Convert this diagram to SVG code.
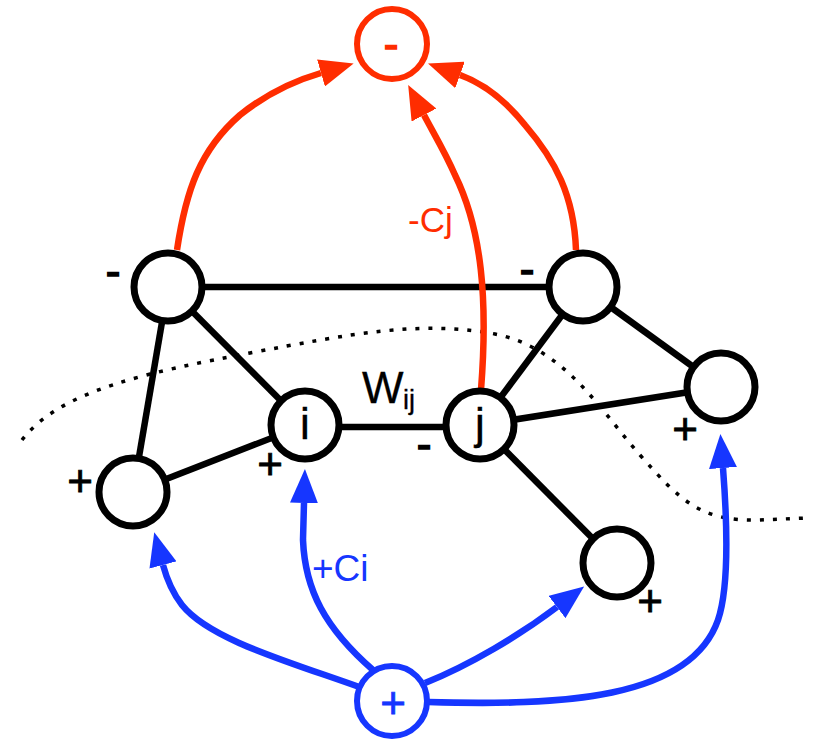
<svg xmlns="http://www.w3.org/2000/svg" width="817" height="740" viewBox="0 0 817 740">
  <style>
    .edge { stroke: #000; stroke-width: 6.5; fill: none; }
    .node { fill: #fff; stroke: #000; stroke-width: 7; }
    .red { stroke: #ff2d00; stroke-width: 6.5; fill: none; }
    .blue { stroke: #1636ff; stroke-width: 6.5; fill: none; }
    .lbl { font-family: "Liberation Sans", Arial, sans-serif; font-size: 44px; fill: #000; stroke: #000; stroke-width: 0.8; }
    .cut { stroke: #000; stroke-width: 3.5; fill: none; stroke-dasharray: 4 9; }
  </style>
  <defs>
    <marker id="headRed" markerUnits="userSpaceOnUse" markerWidth="34" markerHeight="28" refX="0" refY="14" orient="auto" viewBox="0 0 34 28">
      <path d="M0,0 L34,14 L0,28 Z" fill="#ff2d00"/>
    </marker>
    <marker id="headBlue" markerUnits="userSpaceOnUse" markerWidth="34" markerHeight="28" refX="0" refY="14" orient="auto" viewBox="0 0 34 28">
      <path d="M0,0 L34,14 L0,28 Z" fill="#1636ff"/>
    </marker>
  </defs>
  <rect width="817" height="740" fill="#fff"/>

  <!-- cut line -->
  <path class="cut" d="M22,440 C60,390 150,372 250,353 C350,334 420,320 495,334 C565,348 600,410 640,455 C680,500 700,522 760,520 L806,518"/>

  <!-- connectors -->
  <g id="connectors">
    <line class="edge" x1="168" y1="287" x2="583" y2="287"/>
    <line class="edge" x1="168" y1="287" x2="133" y2="492"/>
    <line class="edge" x1="168" y1="287" x2="305" y2="425"/>
    <line class="edge" x1="133" y1="492" x2="305" y2="425"/>
    <line class="edge" x1="305" y1="427" x2="480" y2="427"/>
    <line class="edge" x1="480" y1="425" x2="583" y2="287"/>
    <line class="edge" x1="480" y1="425" x2="721" y2="387"/>
    <line class="edge" x1="583" y1="287" x2="721" y2="387"/>
    <line class="edge" x1="480" y1="425" x2="617" y2="563"/>

    <path class="red" d="M177,250 C186,190 200,150 240,115 C265,95 290,82 321,73" marker-end="url(#headRed)"/>
    <path class="red" d="M576,250 C574,195 555,160 525,125 C505,100 485,84 460,75" marker-end="url(#headRed)"/>
    <path class="red" d="M481,390 C488,300 482,230 455,175 C445,152 434,134 424,115" marker-end="url(#headRed)"/>

    <path class="blue" d="M362,688 C290,662 210,640 182,605 C172,592 167,580 163,565" marker-end="url(#headBlue)"/>
    <path class="blue" d="M373,670 C325,628 305,590 303,540 L304,503" marker-end="url(#headBlue)"/>
    <path class="blue" d="M425,683 C470,665 520,635 557,607" marker-end="url(#headBlue)"/>
    <path class="blue" d="M428,702 C560,706 690,700 718,620 C730,585 727,520 723,468" marker-end="url(#headBlue)"/>
  </g>

  <!-- nodes -->
  <g id="nodeA"><circle class="node" cx="168" cy="287" r="34"/></g>
  <g id="nodeB"><circle class="node" cx="583" cy="287" r="34"/></g>
  <g id="nodeL"><circle class="node" cx="133" cy="492" r="34"/></g>
  <g id="nodeI">
    <circle class="node" cx="305" cy="425" r="34"/>
    <text class="lbl" x="305" y="439" text-anchor="middle" style="stroke-width:0.4">i</text>
  </g>
  <g id="nodeJ">
    <circle class="node" cx="480" cy="425" r="34"/>
    <text class="lbl" x="480" y="439" text-anchor="middle" style="stroke-width:0.4">j</text>
  </g>
  <g id="nodeR"><circle class="node" cx="721" cy="387" r="34"/></g>
  <g id="nodeBR"><circle class="node" cx="617" cy="563" r="34"/></g>
  <g id="nodeMinus">
    <circle cx="392" cy="44" r="35" fill="#fff" stroke="#ff2d00" stroke-width="6"/>
    <text class="lbl" x="391" y="59" text-anchor="middle" style="fill:#ff2d00;stroke:#ff2d00;stroke-width:1.5">-</text>
  </g>
  <g id="nodePlus">
    <circle cx="392" cy="701" r="35" fill="#fff" stroke="#1636ff" stroke-width="6"/>
    <text class="lbl" x="393" y="718" text-anchor="middle" style="fill:#1636ff;stroke:#1636ff">+</text>
  </g>

  <!-- labels -->
  <g id="labels">
    <text class="lbl" x="113" y="286" text-anchor="middle" style="stroke-width:1.5">-</text>
    <text class="lbl" x="527" y="284" text-anchor="middle" style="stroke-width:1.5">-</text>
    <text class="lbl" x="424" y="459" text-anchor="middle" style="stroke-width:1.5">-</text>
    <text class="lbl" x="80" y="496" text-anchor="middle">+</text>
    <text class="lbl" x="270" y="479" text-anchor="middle">+</text>
    <text class="lbl" x="685" y="444" text-anchor="middle">+</text>
    <text class="lbl" x="650" y="616" text-anchor="middle">+</text>
    <text class="lbl" x="362" y="403" style="stroke-width:0.3">W</text>
    <text class="lbl" x="403" y="409" style="font-size:27px;stroke-width:0.3">ij</text>
    <text class="lbl" x="408" y="232" style="font-size:35px;fill:#ff2d00;stroke:none">-Cj</text>
    <text class="lbl" x="312" y="581" style="font-size:37px;fill:#1636ff;stroke:none">+Ci</text>
  </g>
</svg>
